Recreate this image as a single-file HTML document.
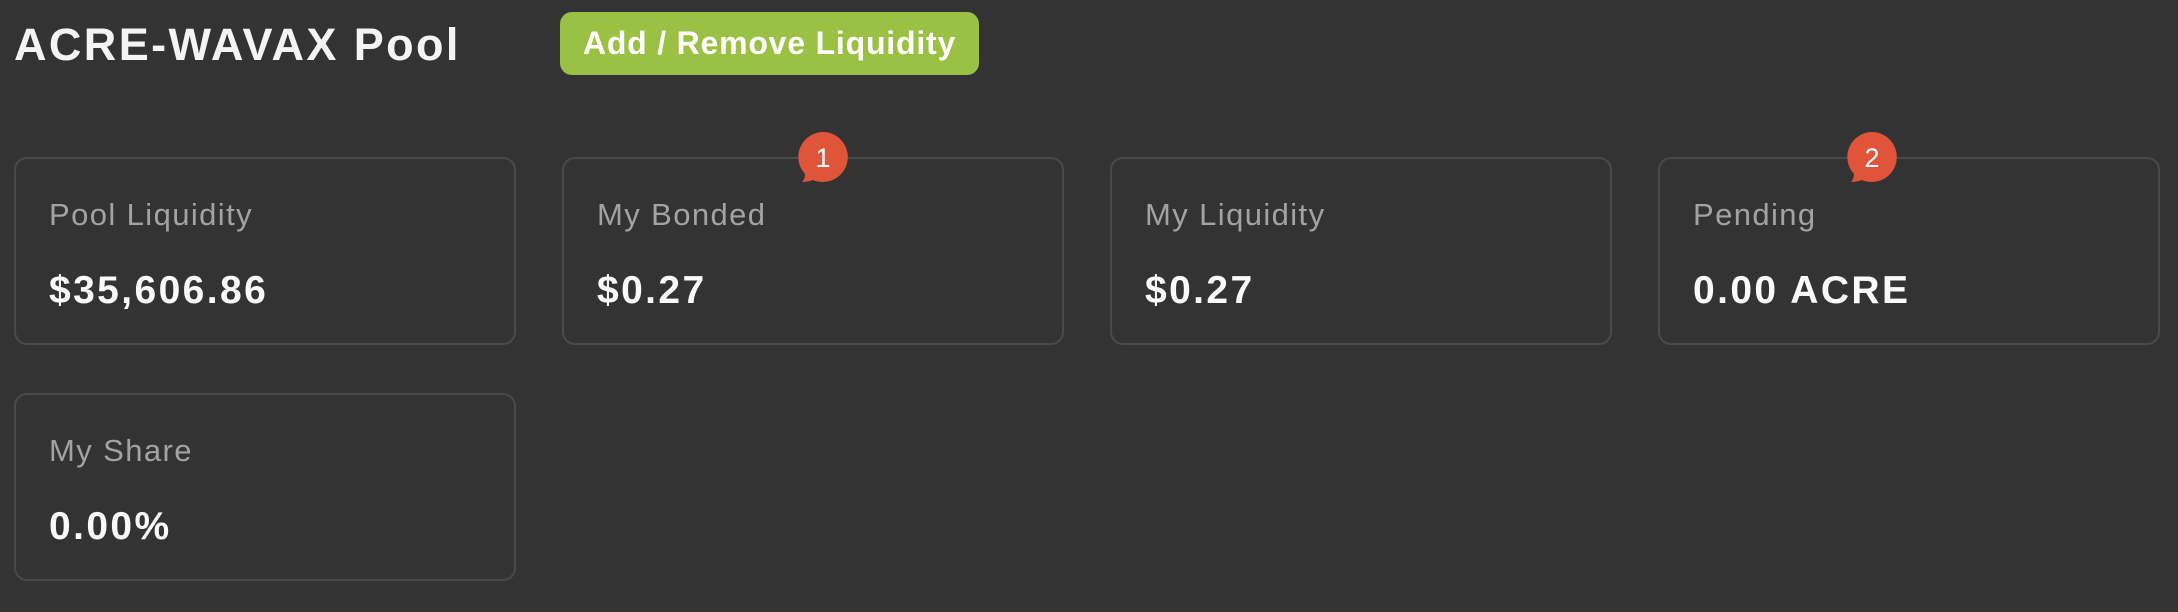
<!DOCTYPE html>
<html><head><meta charset="utf-8"><style>
body{margin:0;width:2178px;height:612px;background:#333333;font-family:"Liberation Sans",sans-serif;position:relative;overflow:hidden}
.t{position:absolute;left:14px;top:19px;font-size:45px;font-weight:700;color:#f4f4f4;letter-spacing:2.4px}
.btn{position:absolute;left:560px;top:12px;width:419px;height:63px;background:#9bc144;border-radius:12px;color:#fff;font-size:32px;font-weight:700;text-align:center;line-height:63px;letter-spacing:0.8px}
.card{position:absolute;width:498px;height:184px;border:2px solid #4a4a4a;border-radius:13px;box-sizing:content-box}
.lab{position:absolute;left:33px;top:38px;font-size:31px;color:#a3a3a3;letter-spacing:1.4px}
.val{position:absolute;left:33px;top:110px;font-size:39px;font-weight:700;color:#fafafa;letter-spacing:2.4px}
.badge{position:absolute;width:54px;height:54px}
</style></head><body>
<div class="t">ACRE-WAVAX Pool</div>
<div class="btn">Add / Remove Liquidity</div>

<div class="card" style="left:14px;top:157px"><div class="lab">Pool Liquidity</div><div class="val">$35,606.86</div></div>
<div class="card" style="left:562px;top:157px"><div class="lab">My Bonded</div><div class="val">$0.27</div></div>
<div class="card" style="left:1110px;top:157px"><div class="lab">My Liquidity</div><div class="val">$0.27</div></div>
<div class="card" style="left:1658px;top:157px"><div class="lab">Pending</div><div class="val">0.00 ACRE</div></div>
<div class="card" style="left:14px;top:393px"><div class="lab">My Share</div><div class="val">0.00%</div></div>

<svg class="badge" style="left:794px;top:130px" viewBox="0 0 54 54"><path d="M29 2a25 25 0 1 1-10 48c-3 1-7 2-11 2 2-2 3-5 3-8A25 25 0 0 1 29 2z" fill="#e0543a"/><text x="29" y="37" text-anchor="middle" font-size="27" fill="#fff" font-family="Liberation Sans">1</text></svg>
<svg class="badge" style="left:1843px;top:130px" viewBox="0 0 54 54"><path d="M29 2a25 25 0 1 1-10 48c-3 1-7 2-11 2 2-2 3-5 3-8A25 25 0 0 1 29 2z" fill="#e0543a"/><text x="29" y="37" text-anchor="middle" font-size="27" fill="#fff" font-family="Liberation Sans">2</text></svg>
</body></html>
